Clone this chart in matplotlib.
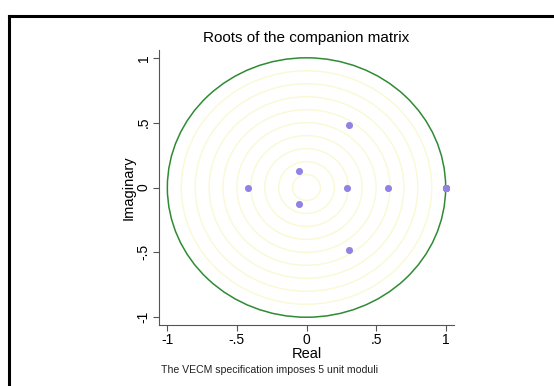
import matplotlib
matplotlib.use("Agg")
import matplotlib.pyplot as plt
from matplotlib.patches import Circle
from matplotlib.lines import Line2D

plt.rcParams['font.family'] = ['Liberation Sans', 'DejaVu Sans']

# eigenvalues of the companion matrix (5 unit roots imposed by the VECM)
real_part = [1.0, 1.0, 1.0, 1.0, 1.0, 0.585, 0.292, 0.308, 0.308, -0.053, -0.053, -0.42]
imag_part = [0.0, 0.0, 0.0, 0.0, 0.0, 0.0, 0.0, 0.479, -0.479, 0.125, -0.125, 0.0]

ring_radii = [0.1, 0.2, 0.3, 0.4, 0.5, 0.6, 0.7, 0.8, 0.9]
tick_vals = [-1, -0.5, 0, 0.5, 1]
tick_labels = ['-1', '-.5', '0', '.5', '1']

fig = plt.figure(figsize=(5.54, 3.86), dpi=100)
ax = fig.add_axes([0.287, 0.158, 0.5325, 0.7124])

for r in ring_radii:
    ax.add_patch(Circle((0, 0), r, fill=False, ec='#f9f9d4', lw=1.0))
ax.add_patch(Circle((0, 0), 1.0, fill=False, ec='#2e8b34', lw=1.1))

ax.scatter(real_part, imag_part, s=26, color='#9183e4', zorder=3, linewidths=0)

ax.set_xlim(-1.06, 1.06)
ax.set_ylim(-1.06, 1.06)
ax.set_xticks(tick_vals)
ax.set_xticklabels(tick_labels)
ax.set_yticks(tick_vals)
ax.set_yticklabels(tick_labels, rotation=90, va='center')

for s in ['top', 'right']:
    ax.spines[s].set_visible(False)
for s in ['left', 'bottom']:
    ax.spines[s].set_color('#555555')
    ax.spines[s].set_linewidth(0.8)
ax.tick_params(direction='out', length=4, width=0.8, color='#555555', labelsize=10, pad=2)

ax.set_xlabel('Real', fontsize=10.5, labelpad=0)
ax.set_ylabel('Imaginary', fontsize=10.5, labelpad=1)
ax.set_title('Roots of the companion matrix', fontsize=11, pad=6)

fig.text(0.291, 0.033, 'The VECM specification imposes 5 unit moduli', fontsize=7.6, color='#222222')

# black frame along top and left edges
fig.add_artist(Line2D([9 / 554, 9 / 554], [0, 1 - 16 / 386], color='black', lw=2.2, transform=fig.transFigure))
fig.add_artist(Line2D([9 / 554, 1], [1 - 16 / 386, 1 - 16 / 386], color='black', lw=2.2, transform=fig.transFigure))

fig.savefig('out.png', dpi=100)
